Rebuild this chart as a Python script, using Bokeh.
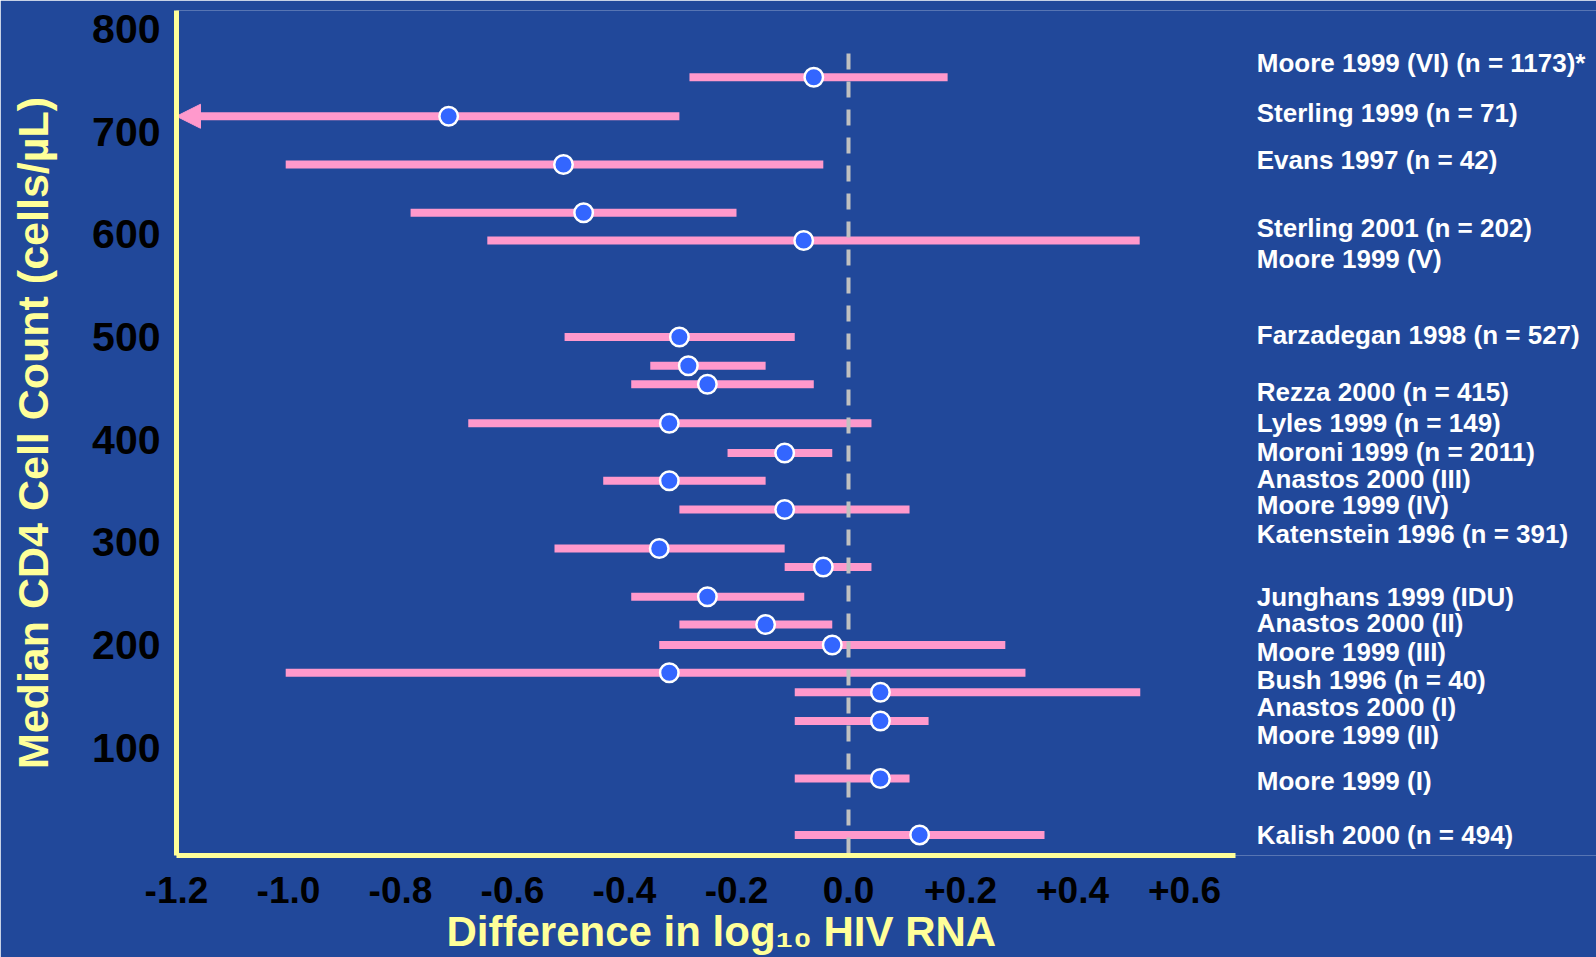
import math
from bokeh.plotting import figure
from bokeh.models import (ColumnDataSource, FixedTicker, CustomJSTickFormatter,
                          Arrow, NormalHead, Title)
from bokeh.embed import file_html
from bokeh.resources import INLINE
from bokeh.core.properties import value

NAN = float("nan")

# ---- data: one row per horizontal bar, top to bottom ----
cd4 = [753, 715, 668, 621, 594, 500, 472, 454, 416, 387, 360, 332,
       294, 276, 247, 220, 200, 173, 154, 126, 70, 15]
diff = [-0.062, -0.714, -0.509, -0.473, -0.080, -0.302, -0.286, -0.252,
        -0.320, -0.114, -0.320, -0.114, -0.338, -0.045, -0.252, -0.148,
        -0.029, -0.320, 0.057, 0.057, 0.057, 0.127]
lower = [-0.284, NAN, -1.005, -0.782, -0.645, -0.507, -0.354, -0.388,
         -0.679, -0.216, -0.438, -0.302, -0.525, -0.114, -0.388, -0.302,
         -0.338, -1.005, -0.096, -0.096, -0.096, -0.096]
upper = [0.177, -0.302, -0.045, -0.200, 0.520, -0.096, -0.148, -0.062,
         0.041, -0.029, -0.148, 0.109, -0.114, 0.041, -0.079, -0.029,
         0.280, 0.316, 0.521, 0.143, 0.109, 0.350]

# study labels and the CD4 level of their baselines
study_labels = [
    "Moore 1999 (VI) (n = 1173)*", "Sterling 1999 (n = 71)", "Evans 1997 (n = 42)",
    "Sterling 2001 (n = 202)", "Moore 1999 (V)", "Farzadegan 1998 (n = 527)",
    "Rezza 2000 (n = 415)", "Lyles 1999 (n = 149)", "Moroni 1999 (n = 2011)",
    "Anastos 2000 (III)", "Moore 1999 (IV)", "Katenstein 1996 (n = 391)",
    "Junghans 1999 (IDU)", "Anastos 2000 (II)", "Moore 1999 (III)",
    "Bush 1996 (n = 40)", "Anastos 2000 (I)", "Moore 1999 (II)",
    "Moore 1999 (I)", "Kalish 2000 (n = 494)",
]
label_cd4 = [767, 718, 672, 606, 576, 502, 446, 416, 388, 362, 336, 308,
             247, 221, 193, 166, 140, 112, 68, 15]

x_ticks = [-1.2, -1.0, -0.8, -0.6, -0.4, -0.2, 0.0, 0.2, 0.4, 0.6]
y_ticks = [100, 200, 300, 400, 500, 600, 700, 800]

X_MIN, X_MAX, X_AXIS_END = -1.2, 1.3357, 0.691
Y_MIN, Y_MAX = -5, 818
REF_X, REF_TOP = 0.0, 776
LABEL_X = 0.729

BG = "#21489A"
PINK = "#FF99CC"
YELLOW = "#FFFF99"
DOT = "#3366FF"
FONT = "Liberation Sans"

p = figure(width=1596, height=957, x_range=(X_MIN, X_MAX), y_range=(Y_MIN, Y_MAX),
           output_backend="svg", toolbar_location=None,
           min_border_left=176, min_border_right=0, min_border_top=10,
           min_border_bottom=102)
p.background_fill_color = BG
p.border_fill_color = BG
p.outline_line_color = None
p.grid.visible = False

# bars (complete intervals)
full = [i for i in range(len(cd4)) if not math.isnan(lower[i])]
trunc = [i for i in range(len(cd4)) if math.isnan(lower[i])]
bars = ColumnDataSource(dict(y=[cd4[i] for i in full],
                             lo=[lower[i] for i in full],
                             hi=[upper[i] for i in full]))
p.segment(x0="lo", y0="y", x1="hi", y1="y", source=bars,
          line_color=PINK, line_width=8, line_cap="butt")

# intervals running off the left edge: arrow
arr_src = ColumnDataSource(dict(xs=[upper[i] for i in trunc],
                                xe=[X_MIN for i in trunc],
                                y=[cd4[i] for i in trunc]))
arrow = Arrow(end=NormalHead(size=24, fill_color=PINK, line_color=PINK, line_width=1),
              x_start="xs", y_start="y", x_end="xe", y_end="y", source=arr_src,
              line_color=PINK, line_width=8, level="underlay")
p.add_layout(arrow)

# zero reference line
p.segment(x0=[REF_X], y0=[REF_TOP], x1=[REF_X], y1=[Y_MIN],
          line_color="#C0C0C0", line_width=4, line_dash="16 12")

# point estimates
pts = ColumnDataSource(dict(x=diff, y=cd4))
p.scatter(x="x", y="y", source=pts, size=18.5, fill_color=DOT,
          line_color="white", line_width=2.5)

# study labels
lab = ColumnDataSource(dict(x=[LABEL_X] * len(study_labels), y=label_cd4, t=study_labels))
p.text(x="x", y="y", text="t", source=lab, text_color="white",
       text_font=value(FONT), text_font_style="bold", text_font_size="26px",
       text_align="left", text_baseline="alphabetic")

# axes
p.xaxis.ticker = FixedTicker(ticks=x_ticks)
p.xaxis.formatter = CustomJSTickFormatter(
    code="return (tick > 0.001 ? '+' : '') + (Math.abs(tick) < 0.001 ? '0.0' : tick.toFixed(1));")
p.xaxis.bounds = (X_MIN, X_AXIS_END)
p.yaxis.ticker = FixedTicker(ticks=y_ticks)
p.yaxis.bounds = (Y_MIN, Y_MAX)
for ax in (p.xaxis, p.yaxis):
    ax.axis_line_color = YELLOW
    ax.axis_line_width = 5
    ax.major_tick_line_color = None
    ax.minor_tick_line_color = None
    ax.major_tick_out = 0
    ax.major_tick_in = 0
    ax.major_label_text_color = "black"
    ax.major_label_text_font = FONT
    ax.major_label_text_font_style = "bold"
p.xaxis.major_label_text_font_size = "37px"
p.yaxis.major_label_text_font_size = "41px"
p.xaxis.major_label_standoff = 21
p.yaxis.major_label_standoff = 16

p.yaxis.axis_label = "Median CD4 Cell Count (cells/µL)"
p.yaxis.axis_label_text_color = YELLOW
p.yaxis.axis_label_text_font = FONT
p.yaxis.axis_label_text_font_style = "bold"
p.yaxis.axis_label_text_font_size = "43px"
p.yaxis.axis_label_standoff = 32

# x-axis title (below the tick labels)
p.add_layout(Title(text="Difference in log₁₀ HIV RNA", align="left", offset=270,
                   standoff=0, text_color=YELLOW, text_font=FONT,
                   text_font_style="bold", text_font_size="42px"), "below")

open("out.html", "w").write(file_html(p, INLINE))
